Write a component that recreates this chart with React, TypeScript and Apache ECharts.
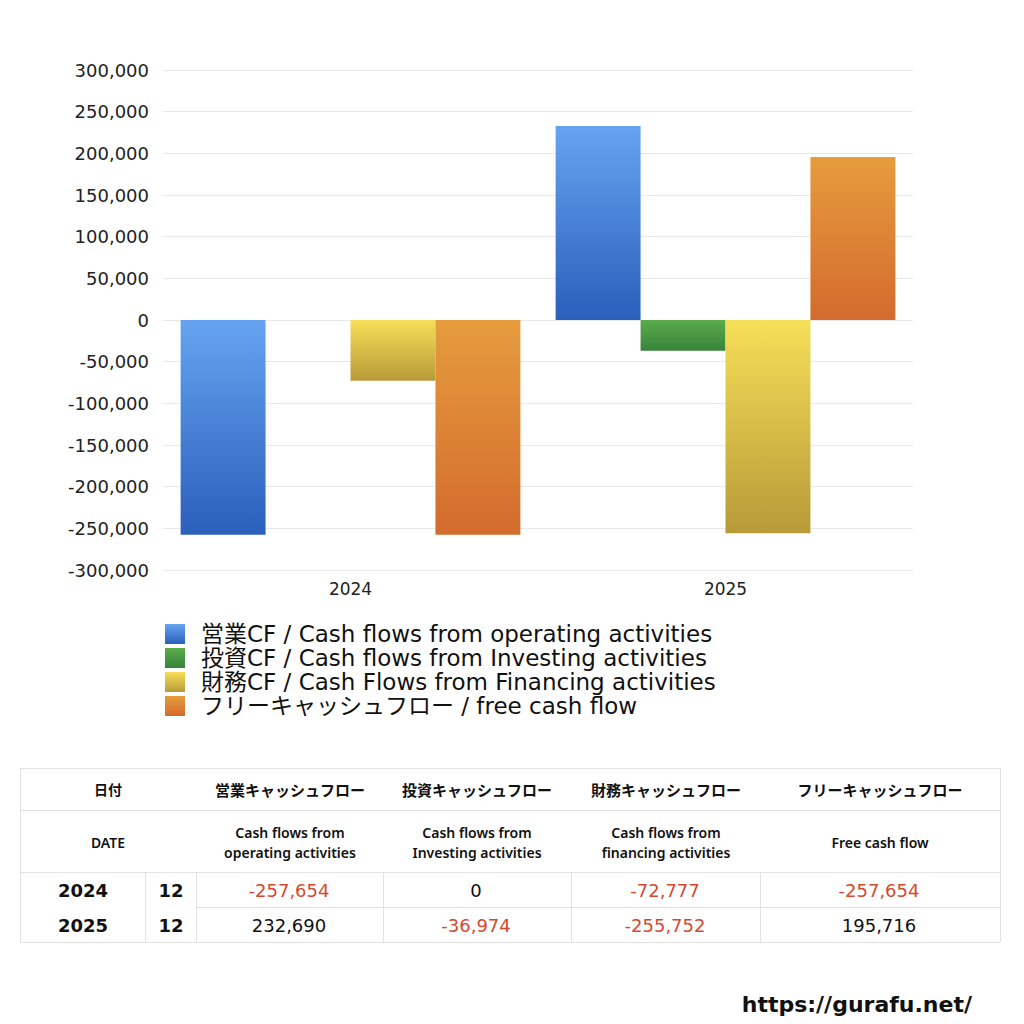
import React, { useEffect, useRef } from "react";
import * as echarts from "echarts";

const categories = ["2024", "2025"];
const months = ["12", "12"];
const seriesNames = [
  "営業CF / Cash flows from operating activities",
  "投資CF / Cash flows from Investing activities",
  "財務CF / Cash Flows from Financing activities",
  "フリーキャッシュフロー / free cash flow",
];
const operating = [-257654, 232690];
const investing = [0, -36974];
const financing = [-72777, -255752];
const freeCF = [-257654, 195716];

const headerJa = ["営業キャッシュフロー", "投資キャッシュフロー", "財務キャッシュフロー", "フリーキャッシュフロー"];
const headerEn = [
  "Cash flows from\noperating activities",
  "Cash flows from\nInvesting activities",
  "Cash flows from\nfinancing activities",
  "Free cash flow",
];

const gradients = [
  ["#66a3f0", "#2a5fbb"],
  ["#5cab4c", "#36843a"],
  ["#f6df58", "#b89a38"],
  ["#e69c3d", "#d36b2d"],
];

const FONT = "'DejaVu Sans', 'Noto Sans CJK JP', sans-serif";
const FONT_NOTO = "'Noto Sans', 'Noto Sans CJK JP', sans-serif";
const FONT_JA = "'Noto Sans CJK JP', sans-serif";

function grad(c: string[]) {
  return new echarts.graphic.LinearGradient(0, 0, 0, 1, [
    { offset: 0, color: c[0] },
    { offset: 1, color: c[1] },
  ]);
}

function fmt(v: number) {
  return v.toLocaleString("en-US");
}

export default function App() {
  const ref = useRef<HTMLDivElement>(null);
  useEffect(() => {
    if (!ref.current) return;
    const chart = echarts.init(ref.current, undefined, { renderer: "svg" });
    const data = [operating, investing, financing, freeCF];

    const tL = 20, tR = 1000;
    const yTop = 768, yH1 = 810, yH2 = 872, yR1 = 907, yBot = 942;
    const colX = [196, 383, 571, 760, 1000];
    const colCenters = [290, 477, 666, 880];
    const lineStyle = { stroke: "#e2e2e2", lineWidth: 1 };
    const g: any[] = [];
    const hline = (x1: number, x2: number, y: number) =>
      g.push({ type: "line", shape: { x1, y1: y + 0.5, x2, y2: y + 0.5 }, style: lineStyle, silent: true });
    const vline = (x: number, y1: number, y2: number) =>
      g.push({ type: "line", shape: { x1: x + 0.5, y1, x2: x + 0.5, y2 }, style: lineStyle, silent: true });
    hline(tL, tR, yTop);
    hline(tL, tR, yH1);
    hline(tL, tR, yH2);
    hline(196, tR, yR1);
    hline(tL, tR, yBot);
    vline(tL, yTop, yBot);
    vline(tR, yTop, yBot);
    vline(145, yH2, yBot);
    colX.slice(0, 4).forEach((x) => vline(x, yH2, yBot));
    const text = (
      x: number,
      y: number,
      t: string,
      size: number,
      weight: any,
      family: string,
      color = "#111",
      lh?: number
    ) =>
      g.push({
        type: "text",
        x,
        y,
        silent: true,
        style: {
          text: t,
          x: 0,
          y: 0,
          align: "center",
          verticalAlign: "middle",
          fontSize: size,
          fontWeight: weight,
          fill: color,
          fontFamily: family,
          lineHeight: lh,
        },
      });
    text(108, 789, "日付", 14, "bold", FONT_JA);
    text(108, 842, "DATE", 14, 600, FONT_NOTO);
    headerJa.forEach((h, i) => text(colCenters[i], 789, h, 15, "bold", FONT_JA));
    headerEn.forEach((h, i) => text(colCenters[i], 842, h, 14, 600, FONT_NOTO, "#111", 20));
    const rowY = [890, 925];
    categories.forEach((c, r) => {
      text(83, rowY[r], c, 18, "bold", FONT);
      text(171, rowY[r], months[r], 18, "bold", FONT);
      data.forEach((s, i) => {
        const v = s[r];
        text(colCenters[i] - 1, rowY[r], fmt(v), 18, "normal", FONT, v < 0 ? "#d4492f" : "#111");
      });
    });
    g.push({
      type: "text",
      x: 972,
      y: 1004,
      silent: true,
      style: {
        text: "https://gurafu.net/",
        align: "right",
        verticalAlign: "middle",
        fontSize: 22,
        fontWeight: 600,
        fill: "#111",
        fontFamily: FONT,
      },
    });

    chart.setOption({
      animation: false,
      backgroundColor: "#ffffff",
      textStyle: { fontFamily: FONT },
      grid: { left: 163, right: 111, top: 70, height: 500, containLabel: false },
      legend: {
        orient: "vertical",
        left: 160,
        top: 617,
        itemWidth: 20,
        itemHeight: 20,
        itemGap: 0,
        icon: "rect",
        textStyle: {
          fontSize: 23,
          lineHeight: 24,
          color: "#111",
          fontFamily: FONT,
          padding: [0, 0, 0, 11],
        },
        data: seriesNames,
      },
      xAxis: {
        type: "category",
        data: categories,
        axisLine: { show: false },
        axisTick: { show: false },
        axisLabel: { fontSize: 17, color: "#222", margin: 10 },
      },
      yAxis: {
        type: "value",
        min: -300000,
        max: 300000,
        interval: 50000,
        axisLine: { show: false },
        axisTick: { show: false },
        splitLine: { lineStyle: { color: "#e8e8e8" } },
        axisLabel: {
          fontSize: 18,
          color: "#222",
          margin: 14,
          formatter: (v: number) => fmt(v),
        },
      },
      series: data.map((d, i) => ({
        name: seriesNames[i],
        type: "bar",
        data: d,
        barGap: "0%",
        barCategoryGap: "9.4%",
        itemStyle: { color: grad(gradients[i]) },
      })),
      graphic: g,
    });
    return () => chart.dispose();
  }, []);
  return (
    <div style={{ position: "absolute", left: 0, top: 0, width: 1024, height: 1024, background: "#fff" }}>
      <div ref={ref} style={{ width: 1024, height: 1024 }} />
    </div>
  );
}
